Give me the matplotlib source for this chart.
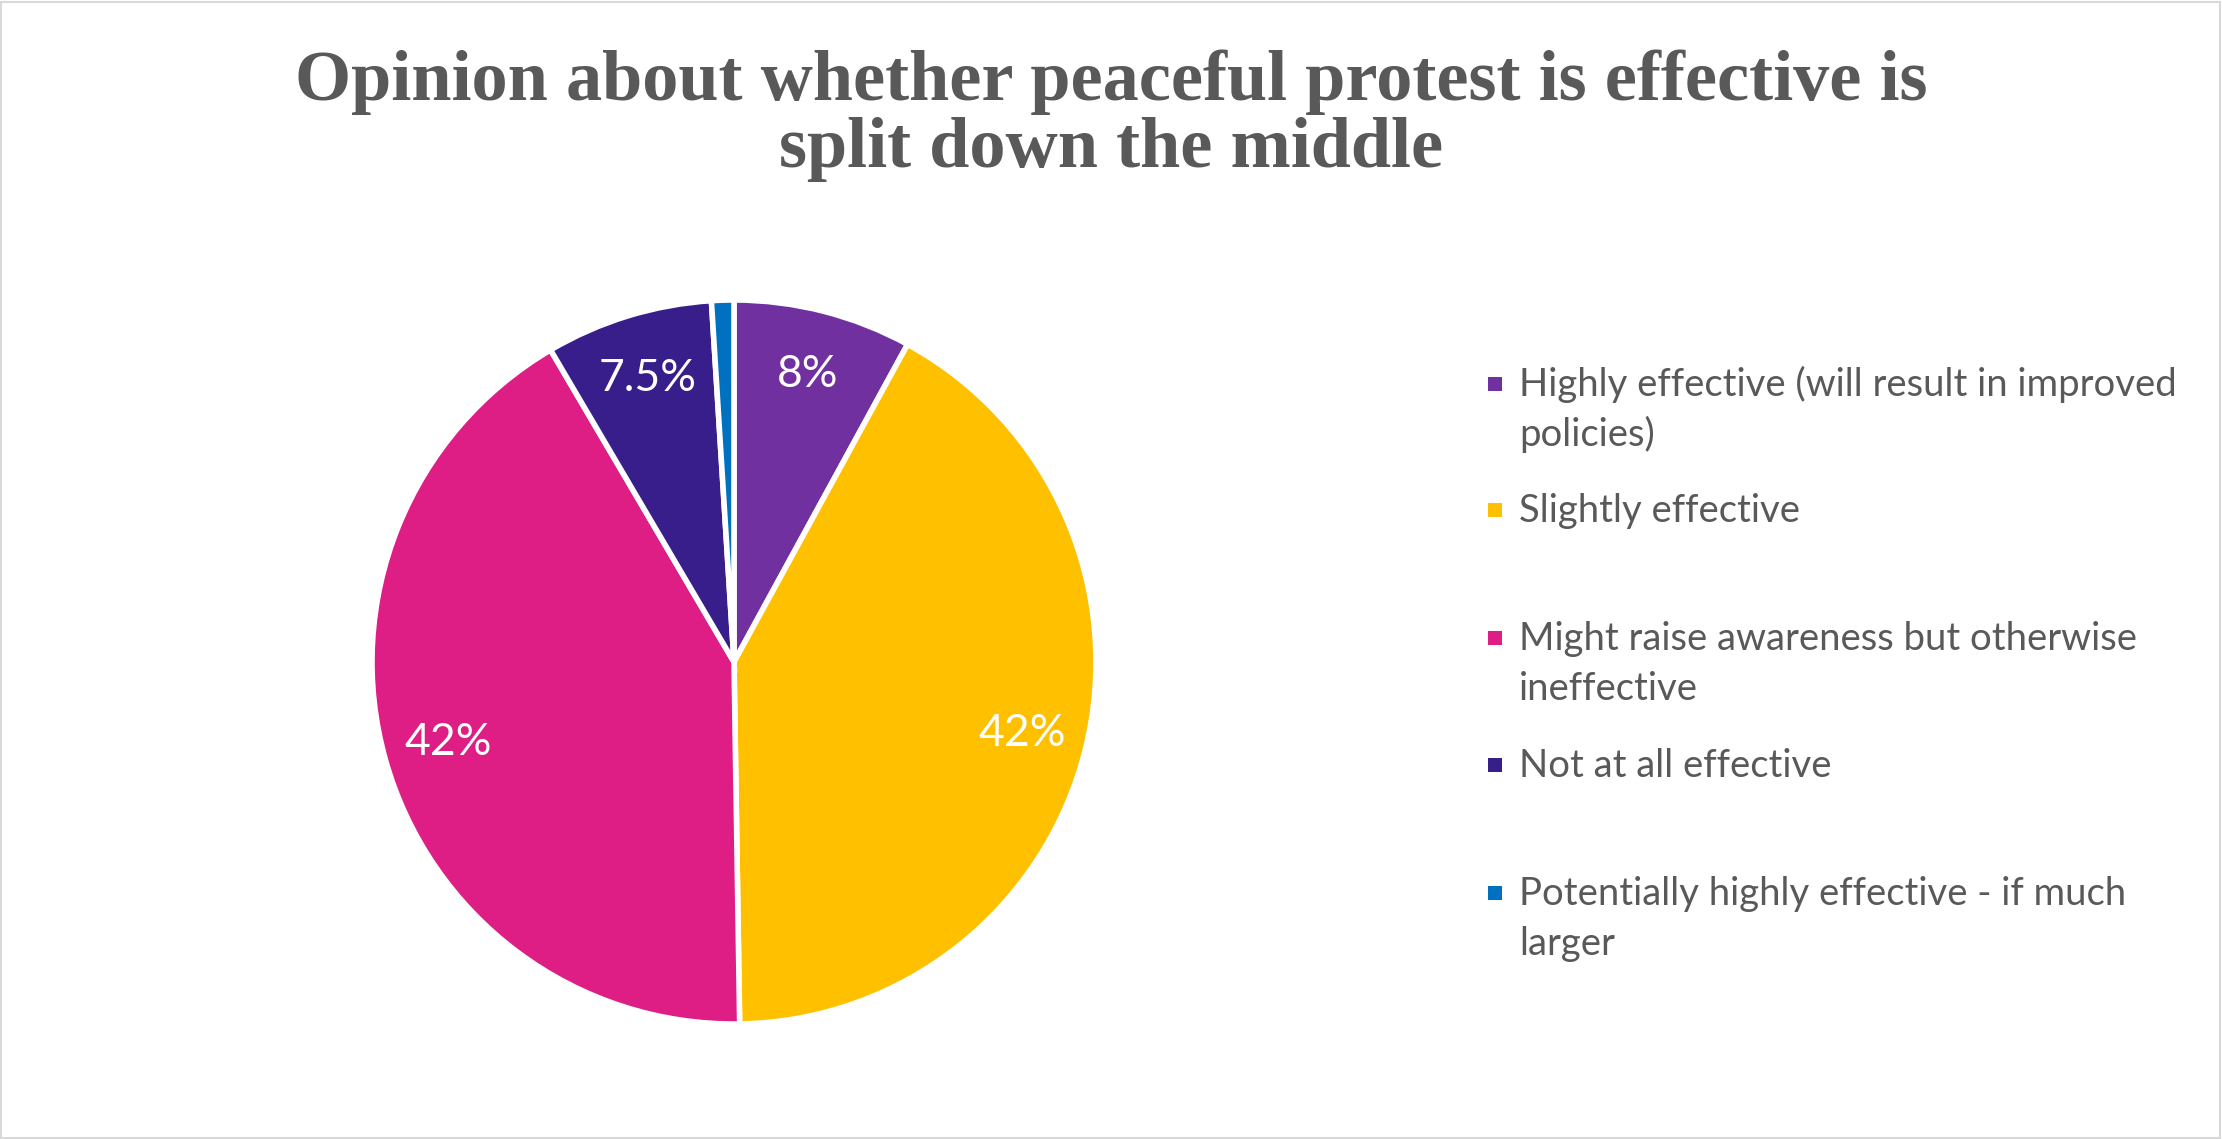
import matplotlib
matplotlib.use('Agg')
import numpy as np
import matplotlib.pyplot as plt
from matplotlib.patches import Rectangle

# ---- data ----
categories = [
    "Highly effective (will result in improved\npolicies)",
    "Slightly effective",
    "Might raise awareness but otherwise\nineffective",
    "Not at all effective",
    "Potentially highly effective - if much\nlarger",
]
values = [8, 42, 42, 7.5, 1]
value_labels = ["8%", "42%", "42%", "7.5%", ""]
colors = ["#7030A0", "#FFC000", "#DE1D85", "#371E8A", "#0070C0"]
title = "Opinion about whether peaceful protest is effective is\nsplit down the middle"

TEXT = "#595959"
W, H = 2222, 1139
fig = plt.figure(figsize=(W / 100, H / 100), dpi=100)
fig.patch.set_facecolor("white")

# border around chart area
fig.patches.append(Rectangle((1 / W, 1 / H), 1 - 3 / W, 1 - 3 / H, transform=fig.transFigure,
                             fill=False, edgecolor="#D9D9D9", linewidth=1.5))

# title
fig.text(0.5, 1 - 116 / H, title, ha="center", va="center", fontsize=52,
         fontweight="bold", family="Liberation Serif", color=TEXT, linespacing=1.04)

# pie
cx, cy, r = 734, 662, 362
ax = fig.add_axes([(cx - r) / W, 1 - (cy + r) / H, 2 * r / W, 2 * r / H])
wedges, _ = ax.pie(values, colors=colors, startangle=90, counterclock=False,
                   wedgeprops=dict(edgecolor="white", linewidth=4))
ax.set_xlim(-1, 1)
ax.set_ylim(-1, 1)
for w, lab in zip(wedges, value_labels):
    if not lab:
        continue
    ang = np.deg2rad((w.theta1 + w.theta2) / 2)
    d = 0.82
    ax.text(d * np.cos(ang), d * np.sin(ang), lab, ha="center", va="center",
            color="white", fontsize=32, family="Lato")

# legend (manual)
leg_y = [384, 510, 638, 765, 893]
mx, tx = 1495, 1519
line_gap = 50
for y, cat, col in zip(leg_y, categories, colors):
    fig.patches.append(Rectangle(((mx - 7) / W, 1 - (y + 7) / H), 14 / W, 14 / H,
                                 transform=fig.transFigure, color=col, linewidth=0))
    for k, line in enumerate(cat.split("\n")):
        fig.text(tx / W, 1 - (y + 12 + k * line_gap) / H, line, ha="left", va="baseline",
                 fontsize=27.5, family="Lato", color=TEXT)

fig.savefig("out.png", dpi=100, facecolor="white")
